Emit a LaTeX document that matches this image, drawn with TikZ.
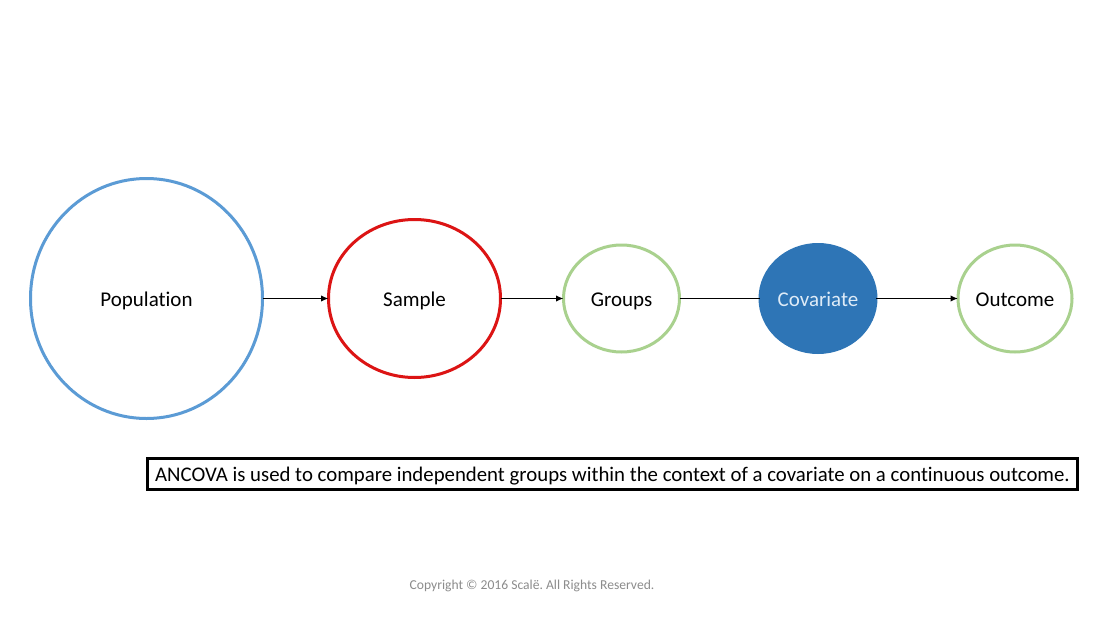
\documentclass[tikz,border=0pt]{standalone}
\usepackage{fontspec}
\setmainfont[Ligatures={NoCommon}]{Carlito}
\usetikzlibrary{shapes.geometric,arrows.meta}
\definecolor{popblue}{RGB}{91,155,213}
\definecolor{samred}{RGB}{220,20,20}
\definecolor{grpgreen}{RGB}{169,209,142}
\definecolor{covblue}{RGB}{46,117,182}
\definecolor{covtext}{RGB}{222,235,247}
\definecolor{copygray}{RGB}{140,140,140}
\tikzset{
  circ/.style={ellipse, draw, line width=3pt, inner sep=0pt, outer sep=0pt, text height=16pt, text depth=1pt, font=\fontsize{21}{24}\selectfont},
  conn/.style={line width=1.4pt, black},
  arr/.style={conn, -{Latex[length=7.5pt,width=6.5pt]}},
}
\begin{document}
\frenchspacing
\begin{tikzpicture}[x=1pt,y=-1pt]
\useasboundingbox (0,0) rectangle (1100,618);
\fill[white] (0,0) rectangle (1100,618);
\node[circ, draw=popblue, minimum width=232pt, minimum height=240pt] (pop) at (146.5,298.5) {Population};
\node[circ, draw=samred, minimum width=172pt, minimum height=158pt] (sam) at (414.5,298.5) {Sample};
\node[circ, draw=grpgreen, minimum width=116pt, minimum height=107pt] (grp) at (621.5,298.5) {Groups};
\node[circ, draw=covblue, fill=covblue, text=covtext, minimum width=116pt, minimum height=108pt] (cov) at (818,298.5) {Covariate};
\node[circ, draw=grpgreen, minimum width=114pt, minimum height=107pt] (out) at (1015,298.5) {Outcome};
\draw[arr] (pop.east) -- (sam.west);
\draw[arr] (sam.east) -- (grp.west);
\draw[conn] (grp.east) -- (cov.west);
\draw[arr] (cov.east) -- (out.west);
\node[draw, line width=3pt, minimum width=930pt, minimum height=31pt, inner sep=0pt, text height=16.5pt, text depth=2pt, font=\fontsize{20.8}{24}\selectfont] (box) at (612.5,474) {ANCOVA is used to compare independent groups within the context of a covariate on a continuous outcome.};
\node[text=copygray, font=\fontsize{13.6}{16}\selectfont] (copy) at (532,586) {Copyright © 2016 Scalë. All Rights Reserved.};
\end{tikzpicture}
\end{document}
